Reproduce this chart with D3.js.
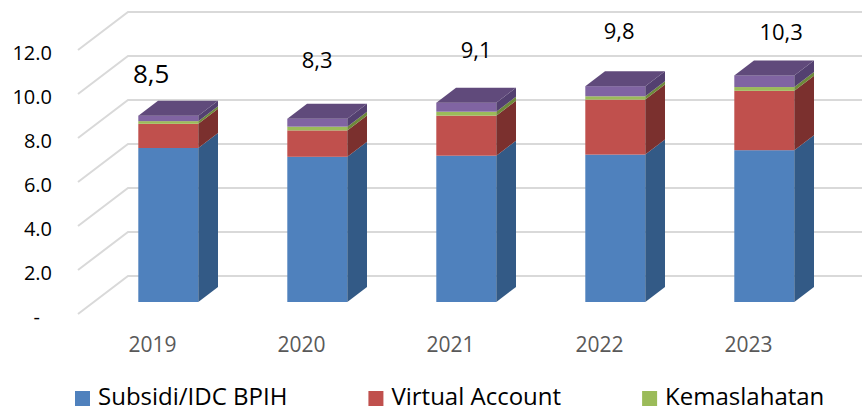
<!DOCTYPE html>
<html lang="en">
<head>
    <meta charset="UTF-8">
    <title>Subsidi BPIH</title>
    <script src="https://d3js.org/d3.v7.min.js"></script>
    <style>
        html, body {
            margin: 0;
            padding: 0;
            background: #fff;
        }
        svg {
            display: block;
            font-family: "Open Sans", "Noto Sans", sans-serif;
        }
        .grid line, .grid path {
            stroke: #d9d9d9;
            stroke-width: 2;
            fill: none;
        }
        .tick-label { font-size: 20px; fill: #000; }
        .year-label { font-size: 21px; fill: #595959; }
        .total-label { font-size: 22px; fill: #000; }
        .legend text { font-size: 24px; fill: #000; }
    </style>
</head>
<body>
    <svg id="chart" width="862" height="412"></svg>

    <script>
        // data (trillion rupiah)
        var years = ["2019", "2020", "2021", "2022", "2023"];
        var subsidi = [7.0, 6.6, 6.65, 6.7, 6.9];
        var virtualAccount = [1.1, 1.2, 1.82, 2.5, 2.7];
        var kemaslahatan = [0.12, 0.17, 0.18, 0.15, 0.17];
        var lainnya = [0.25, 0.36, 0.41, 0.46, 0.53];   // purple part, legend entry is cut off
        var yTicks = [0, 2, 4, 6, 8, 10, 12];
        var legendNames = ["Subsidi/IDC BPIH", "Virtual Account", "Kemaslahatan"];

        // hand placed value labels in the original (dx, dy)
        var labelNudge = [[-27, 9], [-10, -9], [0, -3], [-6, -5], [7, 7]];

        var keys = ["subsidi", "va", "kemas", "lain"];
        var front = {subsidi: "#4f81bd", va: "#c0504d", kemas: "#9bbb59", lain: "#8064a2"};
        var side = {subsidi: "#335a86", va: "#7b302e", kemas: "#6e8a3a", lain: "#534070"};
        var topCol = "#604a7b";

        var rows = years.map(function(y, i) {
            return {year: y, subsidi: subsidi[i], va: virtualAccount[i], kemas: kemaslahatan[i], lain: lainnya[i]};
        });
        var series = d3.stack().keys(keys)(rows);

        var svg = d3.select("#chart");

        // oblique 3d: full floor depth and where the bars sit in it
        var depthX = 50, depthY = 38;
        var barD0 = 0.316, barD1 = 0.71;

        var x = d3.scaleBand().domain(years).range([78, 823]);
        var y = d3.scaleLinear().domain([0, 12]).range([314, 50]);
        var barW = 60;

        // back wall + floor gridlines
        var grid = svg.append("g").attr("class", "grid");
        grid.selectAll("path").data(yTicks).enter().append("path")
            .attr("d", function(t) {
                var yf = y(t);
                return "M" + x.range()[0] + "," + yf +
                    "L" + (x.range()[0] + depthX) + "," + (yf - depthY) +
                    "L862," + (yf - depthY);
            });

        svg.append("g").selectAll("text").data(yTicks).enter().append("text")
            .attr("class", "tick-label")
            .attr("x", t => t === 0 ? 40 : 52)
            .attr("y", t => y(t) + 3)
            .attr("dy", "0.35em")
            .attr("text-anchor", "end")
            .text(t => t === 0 ? "-" : d3.format(".1f")(t));

        // bars
        function fx(d) { return x.bandwidth() * 0.5 + depthX * d - barW / 2; }
        function py(v, d) { return y(v) - depthY * d; }

        var bdx = depthX * (barD1 - barD0), bdy = depthY * (barD1 - barD0);

        var bars = svg.append("g");
        series.forEach(function(s) {
            var k = s.key;
            var g = bars.append("g");
            g.selectAll("rect").data(s).enter().append("rect")
                .attr("x", d => x(d.data.year) + fx(barD0))
                .attr("y", d => py(d[1], barD0))
                .attr("width", barW)
                .attr("height", d => py(d[0], barD0) - py(d[1], barD0))
                .attr("fill", front[k]);
            g.selectAll("path").data(s).enter().append("path")
                .attr("fill", side[k])
                .attr("d", function(d) {
                    var xr = x(d.data.year) + fx(barD0) + barW;
                    var y0 = py(d[0], barD0), y1 = py(d[1], barD0);
                    return "M" + xr + "," + y0 + "L" + (xr + bdx) + "," + (y0 - bdy) +
                        "L" + (xr + bdx) + "," + (y1 - bdy) + "L" + xr + "," + y1 + "Z";
                });
        });

        // top faces on the last segment
        var last = series[series.length - 1];
        bars.append("g").selectAll("path").data(last).enter().append("path")
            .attr("fill", topCol)
            .attr("d", function(d) {
                var xl = x(d.data.year) + fx(barD0);
                var yt = py(d[1], barD0);
                return "M" + xl + "," + yt + "L" + (xl + bdx) + "," + (yt - bdy) +
                    "L" + (xl + barW + bdx) + "," + (yt - bdy) + "L" + (xl + barW) + "," + yt + "Z";
            });

        // totals
        svg.append("g").selectAll("text").data(last).enter().append("text")
            .attr("class", "total-label")
            .attr("text-anchor", "middle")
            .attr("x", (d, i) => x(d.data.year) + fx(barD0) + barW / 2 + bdx / 2 + labelNudge[i][0])
            .attr("y", (d, i) => py(d[1], barD1) - 27 + labelNudge[i][1])
            .style("font-size", (d, i) => i === 0 ? "26px" : null)
            .text(d => d3.format(".1f")(d[1]).replace(".", ","));

        // year labels at the front edge of the floor
        svg.append("g").selectAll("text").data(years).enter().append("text")
            .attr("class", "year-label")
            .attr("text-anchor", "middle")
            .attr("x", d => x(d) + x.bandwidth() / 2)
            .attr("y", 352)
            .text(d => d);

        // legend
        var legend = svg.append("g").attr("class", "legend");
        var lx = 75;
        legendNames.forEach(function(name, i) {
            var item = legend.append("g").attr("transform", "translate(" + lx + ",0)");
            item.append("rect")
                .attr("x", 0).attr("y", 391)
                .attr("width", 15).attr("height", 15)
                .attr("fill", front[keys[i]]);
            var t = item.append("text")
                .attr("x", 23).attr("y", 405)
                .text(name);
            lx += 23 + t.node().getComputedTextLength() + 81;
        });
    </script>
</body>
</html>
